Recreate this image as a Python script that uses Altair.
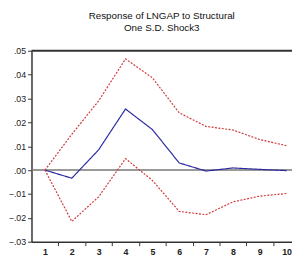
import altair as alt
import pandas as pd

steps = [1, 2, 3, 4, 5, 6, 7, 8, 9, 10]
response = [0.0, -0.0034, 0.0085, 0.0256, 0.0170, 0.0030, -0.0004, 0.0009, 0.0003, -0.0002]
upper = [0.0, 0.0150, 0.0290, 0.0466, 0.0387, 0.0240, 0.0183, 0.0168, 0.0128, 0.0102]
lower = [0.0, -0.0215, -0.0112, 0.0048, -0.0043, -0.0173, -0.0187, -0.0133, -0.0109, -0.0098]
y_ticks = [-0.03, -0.02, -0.01, 0.0, 0.01, 0.02, 0.03, 0.04, 0.05]
title_lines = ["Response of LNGAP to Structural", "One S.D. Shock3"]

rows = []
for name, vals in [("response", response), ("upper", upper), ("lower", lower)]:
    for s, v in zip(steps, vals):
        rows.append({"step": s, "value": v, "series": name})
df = pd.DataFrame(rows)

x_enc = alt.X(
    "step:Q",
    scale=alt.Scale(domain=[0.5, 10.2], nice=False, zero=False),
    axis=alt.Axis(
        values=steps, tickOffset=13.7, labelOffset=-13.7, title=None, grid=False,
        labelFont="Liberation Sans", labelFontSize=9, labelFontWeight="bold",
        labelColor="#222", tickColor="#333", domainColor="#333",
        domainWidth=1.5, tickSize=4, labelPadding=2, labelOverlap=False,
        labelBound=False,
    ),
)
y_axis = alt.Axis(
    values=y_ticks, title=None, grid=False,
    labelExpr="replace(format(datum.value, '.2f'), '0.', '.')",
    labelFont="Liberation Sans", labelFontSize=9, labelColor="#222",
    tickColor="#333", domainColor="#333", domainWidth=1.5, tickSize=4,
    labelPadding=2,
)
y_scale = alt.Scale(domain=[-0.03, 0.05], nice=False, zero=False)

lines = alt.Chart(df).mark_line(strokeWidth=1.2).encode(
    x=x_enc,
    y=alt.Y("value:Q", scale=y_scale, axis=y_axis),
    color=alt.Color(
        "series:N",
        scale=alt.Scale(domain=["response", "upper", "lower"],
                        range=["#2a2aa0", "#d03838", "#d03838"]),
        legend=None,
    ),
    strokeDash=alt.StrokeDash(
        "series:N",
        scale=alt.Scale(domain=["response", "upper", "lower"],
                        range=[[1, 0], [2, 1.5], [2, 1.5]]),
        legend=None,
    ),
    detail="series:N",
)

zero_rule = alt.Chart(pd.DataFrame({"value": [0.0]})).mark_rule(
    color="#777", strokeWidth=1.5
).encode(y=alt.Y("value:Q", scale=y_scale, axis=y_axis))

top_rule = alt.Chart(pd.DataFrame({"value": [0.05]})).mark_rule(
    color="#333", strokeWidth=2
).encode(y=alt.Y("value:Q", scale=y_scale, axis=y_axis))

chart = alt.layer(zero_rule, top_rule, lines).properties(
    width=266,
    height=195,
    autosize="none",
    padding={"left": 24, "top": 41, "right": 0, "bottom": 15},
    title=alt.TitleParams(
        title_lines, font="Liberation Sans",
        fontSize=10, fontWeight="normal", color="#111", anchor="middle",
        offset=14, lineHeight=12.5,
    ),
).configure_view(stroke=None)

chart.save("out.html", embed_options={"renderer": "svg", "actions": False})
